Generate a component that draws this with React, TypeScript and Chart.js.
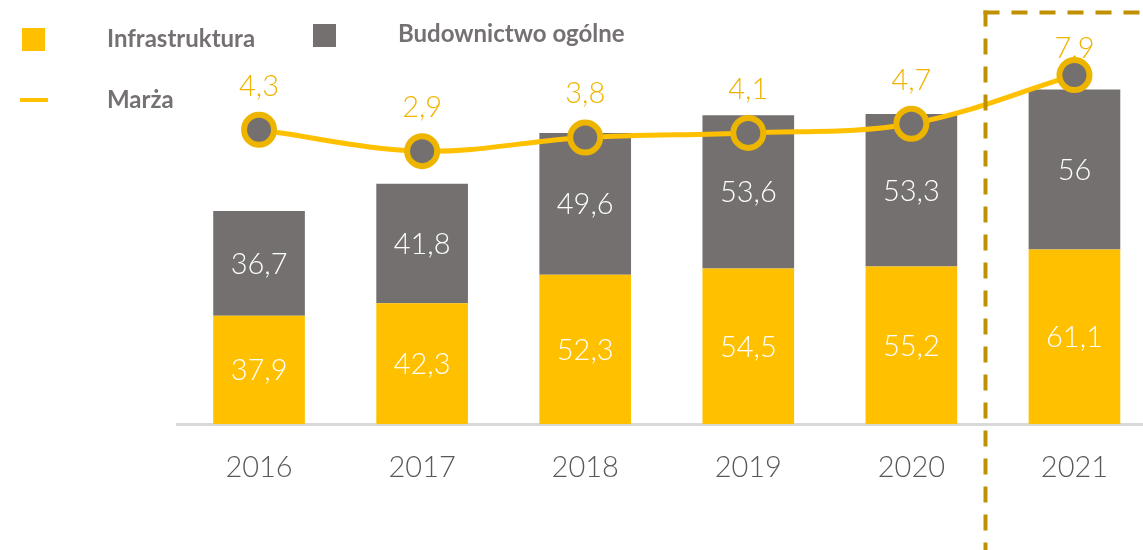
import React, { useEffect, useRef } from "react";
import { Chart, registerables } from "chart.js";

Chart.register(...registerables);

const categories = ["2016", "2017", "2018", "2019", "2020", "2021"];
const infrastruktura = [37.9, 42.3, 52.3, 54.5, 55.2, 61.1];
const budownictwo = [36.7, 41.8, 49.6, 53.6, 53.3, 56];
const marza = [4.3, 2.9, 3.8, 4.1, 4.7, 7.9];

const YELLOW = "#FFC000";
const GREY = "#747070";
const LABEL_YELLOW = "#F0B400";
const DASH = "#BF9000";
const FONT = "Lato, 'Noto Sans', sans-serif";

const fmt = (v: number) => String(v).replace(".", ",");

const labelPlugin = {
  id: "customLabels",
  afterDatasetDraw(chart: any, args: any) {
    if (args.index !== 0 && args.index !== 1) return;
    const ctx = chart.ctx;
    const meta = args.meta;
    const data = chart.data.datasets[args.index].data as number[];
    ctx.save();
    ctx.fillStyle = "#FFFFFF";
    ctx.font = `300 29px ${FONT}`;
    ctx.textAlign = "center";
    ctx.textBaseline = "middle";
    meta.data.forEach((el: any, i: number) => {
      const cy = (el.y + el.base) / 2;
      ctx.fillText(fmt(data[i]), el.x, cy + 1);
    });
    ctx.restore();
  },
  beforeDatasetDraw(chart: any, args: any) {
    if (args.index !== 2) return;
    const ctx = chart.ctx;
    const meta = args.meta;
    const data = chart.data.datasets[2].data as number[];
    const top = chart.chartArea.top;
    ctx.save();
    ctx.fillStyle = LABEL_YELLOW;
    ctx.font = `300 29px ${FONT}`;
    ctx.textAlign = "center";
    ctx.textBaseline = "alphabetic";
    meta.data.forEach((el: any, i: number) => {
      const base = Math.max(el.y - 34, top + 58);
      ctx.fillText(fmt(data[i]), el.x, base);
    });
    ctx.restore();
  },
  afterDraw(chart: any) {
    const ctx = chart.ctx;
    const xs = chart.scales.x;
    const top = chart.chartArea.top + 12.5;
    const x = Math.round(xs.getPixelForValue(4.45)) + 0.5;
    ctx.save();
    ctx.strokeStyle = DASH;
    ctx.lineWidth = 4;
    ctx.setLineDash([16, 12]);
    ctx.beginPath();
    ctx.moveTo(x - 2, top);
    ctx.lineTo(chart.width, top);
    ctx.stroke();
    ctx.beginPath();
    ctx.moveTo(x, top - 2);
    ctx.lineTo(x, chart.height);
    ctx.stroke();
    ctx.restore();

    // legend
    ctx.save();
    ctx.setLineDash([]);
    ctx.fillStyle = YELLOW;
    ctx.fillRect(22, 28, 23, 23);
    ctx.fillStyle = GREY;
    ctx.fillRect(313, 24, 23, 23);
    ctx.strokeStyle = YELLOW;
    ctx.lineWidth = 4;
    ctx.beginPath();
    ctx.moveTo(20, 100);
    ctx.lineTo(48, 100);
    ctx.stroke();
    ctx.fillStyle = "#767171";
    ctx.font = `bold 24px ${FONT}`;
    ctx.textAlign = "left";
    ctx.textBaseline = "middle";
    ctx.fillText(chart.data.datasets[0].label, 107, 39);
    ctx.fillText(chart.data.datasets[1].label, 398, 34);
    ctx.fillText(chart.data.datasets[2].label, 107, 100);
    ctx.restore();
  },
};

export default function App() {
  const ref = useRef<HTMLCanvasElement | null>(null);
  useEffect(() => {
    if (!ref.current) return;
    const chart = new Chart(ref.current, {
      type: "bar",
      data: {
        labels: categories,
        datasets: [
          {
            type: "bar",
            label: "Infrastruktura",
            data: infrastruktura,
            backgroundColor: YELLOW,
            stack: "s",
            yAxisID: "y",
            order: 2,
            categoryPercentage: 1,
            barPercentage: 0.562,
          },
          {
            type: "bar",
            label: "Budownictwo ogólne",
            data: budownictwo,
            backgroundColor: GREY,
            stack: "s",
            yAxisID: "y",
            order: 2,
            categoryPercentage: 1,
            barPercentage: 0.562,
          },
          {
            type: "line",
            label: "Marża",
            data: marza,
            yAxisID: "y2",
            borderColor: YELLOW,
            borderWidth: 5,
            tension: 0.35,
            pointRadius: 15,
            pointHoverRadius: 15,
            pointBorderWidth: 6,
            pointBackgroundColor: GREY,
            pointBorderColor: "#EDB500",
            order: 0,
            clip: false,
          } as any,
        ],
      },
      options: {
        responsive: false,
        maintainAspectRatio: false,
        animation: false,
        devicePixelRatio: 1,
        layout: { autoPadding: false, padding: { left: 177.5, right: 4, top: 0, bottom: 39 } },
        plugins: {
          legend: { display: false },
          tooltip: { enabled: false },
        },
        scales: {
          x: {
            stacked: true,
            offset: true,
            grid: { display: false, drawTicks: false },
            border: { display: true, color: "#D9D9D9", width: 3 },
            ticks: {
              color: "#595959",
              font: { family: FONT, size: 29, weight: "300" as any },
              padding: 26,
            },
          },
          y: { stacked: true, display: false, min: 0, max: 148.4 },
          y2: { display: false, min: -15.06, max: 12.84 },
        },
      } as any,
      plugins: [labelPlugin],
    });
    return () => chart.destroy();
  }, []);
  return (
    <div
      style={{
        position: "fixed",
        left: 0,
        top: 0,
        width: 1143,
        height: 550,
        overflow: "hidden",
        background: "#fff",
      }}
    >
      <div style={{ width: 1160, height: 550 }}>
        <canvas ref={ref} width={1160} height={550} style={{ width: 1160, height: 550, display: "block" }} />
      </div>
    </div>
  );
}
